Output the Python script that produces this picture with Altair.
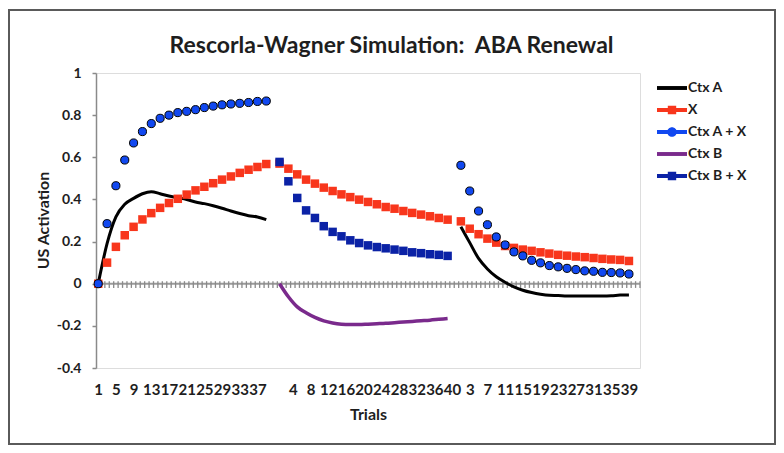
import altair as alt
import pandas as pd

# ---------------- data ----------------
chart_title = "Rescorla-Wagner Simulation: \u00a0ABA Renewal"
series_names = ["Ctx A", "X", "Ctx A + X", "Ctx B", "Ctx B + X"]
series_colors = ["#000000", "#f8361c", "#1148f0", "#7a2a8c", "#0b22a6"]

trials_per_phase = 41          # 40 trials + one blank separator category
plotted_trials = list(range(1, 40, 2))  # odd trials 1..39

# Phase 1: acquisition (context A)
ctx_a_acq = [0.0, 0.19, 0.317, 0.377, 0.405, 0.427, 0.437, 0.427, 0.416, 0.408,
             0.40, 0.388, 0.38, 0.37, 0.358, 0.345, 0.333, 0.323, 0.317, 0.304]
x_acq = [0.0, 0.10, 0.175, 0.23, 0.27, 0.305, 0.335, 0.36, 0.383, 0.403,
         0.423, 0.443, 0.46, 0.477, 0.494, 0.509, 0.526, 0.541, 0.554, 0.568]
ctx_ax_acq = [0.0, 0.285, 0.465, 0.587, 0.668, 0.722, 0.76, 0.785, 0.80, 0.812,
              0.818, 0.826, 0.836, 0.843, 0.849, 0.853, 0.856, 0.86, 0.865, 0.867]

# Phase 2: extinction (context B)
x_ext = [0.57, 0.546, 0.519, 0.494, 0.475, 0.456, 0.44, 0.424, 0.411, 0.399,
         0.388, 0.377, 0.364, 0.356, 0.345, 0.336, 0.328, 0.32, 0.312, 0.304]
ctx_b_ext = [0.0, -0.062, -0.11, -0.138, -0.16, -0.176, -0.186, -0.192, -0.194, -0.194,
             -0.192, -0.19, -0.188, -0.185, -0.182, -0.179, -0.176, -0.173, -0.169, -0.165]
ctx_bx_ext = [0.578, 0.486, 0.407, 0.348, 0.312, 0.273, 0.246, 0.225, 0.206, 0.193,
              0.182, 0.174, 0.168, 0.162, 0.156, 0.149, 0.145, 0.14, 0.137, 0.132]

# Phase 3: renewal test (context A)
ctx_a_ren = [0.27, 0.195, 0.12, 0.07, 0.033, 0.007, -0.015, -0.031, -0.042, -0.05,
             -0.055, -0.056, -0.058, -0.058, -0.058, -0.058, -0.058, -0.057, -0.054, -0.053]
x_ren = [0.296, 0.261, 0.235, 0.214, 0.195, 0.179, 0.17, 0.162, 0.156, 0.149,
         0.143, 0.137, 0.133, 0.129, 0.126, 0.122, 0.118, 0.115, 0.113, 0.108]
ctx_ax_ren = [0.562, 0.44, 0.345, 0.28, 0.222, 0.184, 0.151, 0.132, 0.111, 0.099,
              0.086, 0.08, 0.073, 0.067, 0.061, 0.059, 0.054, 0.053, 0.051, 0.046]

y_ticks = [-0.4, -0.2, 0, 0.2, 0.4, 0.6, 0.8, 1]

# ---------------- build table ----------------
rows = []
def add(series, phase, values):
    for t, v in zip(plotted_trials, values):
        rows.append({"series": series, "phase": phase,
                     "pos": phase * trials_per_phase + t, "value": v})

add("Ctx A", 0, ctx_a_acq)
add("X", 0, x_acq)
add("Ctx A + X", 0, ctx_ax_acq)
add("X", 1, x_ext)
add("Ctx B", 1, ctx_b_ext)
add("Ctx B + X", 1, ctx_bx_ext)
add("Ctx A", 2, ctx_a_ren)
add("X", 2, x_ren)
add("Ctx A + X", 2, ctx_ax_ren)
df = pd.DataFrame(rows)

n_cat = 3 * trials_per_phase
label_vals = list(range(1, n_cat, 4))
boundaries = pd.DataFrame({"pos": [i + 0.5 for i in range(0, n_cat + 1)]})
zero_df = pd.DataFrame({"value": [0.0]})

FONT = "Lato"
TXT = "#1e1e1e"
AX = "#8a8a8a"

x_scale = alt.Scale(domain=[0.5, n_cat + 0.5], nice=False, zero=False)
y_scale = alt.Scale(domain=[-0.4, 1.0], nice=False)

x_axis = alt.Axis(values=label_vals,
                  labelExpr="((datum.value - 1) % 41) + 1 == 41 ? '' : ((datum.value - 1) % 41) + 1",
                  domain=False, ticks=False, grid=False, labelOverlap=False,
                  labelFont=FONT, labelFontWeight="bold", labelFontSize=15,
                  labelColor=TXT, labelPadding=14, labelFlush=False,
                  title="Trials", titleFont=FONT, titleFontWeight="bold",
                  titleFontSize=16, titleColor=TXT, titlePadding=9)
y_axis = alt.Axis(values=y_ticks, labelExpr="round(datum.value * 10) / 10 + ''",
                  grid=False, domainColor=AX, domainWidth=1.5, tickColor=AX,
                  tickWidth=1.5, tickSize=4, labelFont=FONT, labelFontWeight="bold",
                  labelFontSize=14, labelColor=TXT, labelPadding=11,
                  title="US Activation", titleFont=FONT, titleFontWeight="bold",
                  titleFontSize=16, titleColor=TXT, titleAngle=-90,
                  titleX=-53, titleY=147, titleAlign="center", titleBaseline="middle")

X = alt.X("pos:Q", scale=x_scale, axis=x_axis)
Y = alt.Y("value:Q", scale=y_scale, axis=y_axis)

base = alt.Chart(df)

frame = alt.Chart(alt.Data(values=[{"a": 1}])).mark_rect(
    fill=None, stroke="#5a5a5a", strokeWidth=2
).encode(x=alt.value(-87), x2=alt.value(679), y=alt.value(-63), y2=alt.value(371))

title_text = alt.Chart(alt.Data(values=[{"t": chart_title}])).mark_text(
    font=FONT, fontWeight="bold", fontSize=23, color=TXT, align="center",
    baseline="alphabetic"
).encode(text="t:N", x=alt.value(295.5), y=alt.value(-20))

zero_line = alt.Chart(zero_df).mark_rule(color="#9a9a9a", strokeWidth=2).encode(y=Y)

zero_ticks = alt.Chart(boundaries).mark_rule(color="#8a8a8a", strokeWidth=1.3).encode(
    x=X, y=alt.datum(0.012), y2=alt.datum(-0.02)
)

ctx_a_line = base.transform_filter(alt.datum.series == "Ctx A").mark_line(
    color=series_colors[0], strokeWidth=3, interpolate="monotone"
).encode(x=X, y=Y, detail="phase:N")

x_pts = base.transform_filter(alt.datum.series == "X").mark_square(
    color=series_colors[1], size=72, opacity=1
).encode(x=X, y=Y)

ctx_ax_pts = base.transform_filter(alt.datum.series == "Ctx A + X").mark_circle(
    color=series_colors[2], size=66, opacity=1, stroke="#000000", strokeWidth=1
).encode(x=X, y=Y)

ctx_b_line = base.transform_filter(alt.datum.series == "Ctx B").mark_line(
    color=series_colors[3], strokeWidth=3.5, interpolate="monotone"
).encode(x=X, y=Y, detail="phase:N")

ctx_bx_pts = base.transform_filter(alt.datum.series == "Ctx B + X").mark_square(
    color=series_colors[4], size=72, opacity=1
).encode(x=X, y=Y)

line_path = "M-1,-0.13L1,-0.13L1,0.13L-1,0.13Z"
sq_path = line_path + "M-0.28,-0.28L0.28,-0.28L0.28,0.28L-0.28,0.28Z"
circ_path = line_path + "M0.32,0A0.32,0.32,0,1,1,-0.32,0A0.32,0.32,0,1,1,0.32,0Z"
shape_paths = [line_path, sq_path, circ_path, line_path, sq_path]

legend_kw = dict(orient="none", legendX=561, legendY=0, title=None,
                 symbolSize=900, symbolStrokeWidth=0, symbolOpacity=1,
                 labelFont=FONT, labelFontWeight="bold", labelFontSize=14,
                 labelColor=TXT, labelOffset=1, rowPadding=0, padding=0)

legend_layer = base.transform_filter("false").mark_point(filled=True, opacity=1).encode(
    color=alt.Color("series:N", scale=alt.Scale(domain=series_names, range=series_colors),
                    legend=alt.Legend(**legend_kw)),
    shape=alt.Shape("series:N", scale=alt.Scale(domain=series_names, range=shape_paths),
                    legend=alt.Legend(**legend_kw)),
)

chart = alt.layer(
    frame, title_text, zero_line, zero_ticks, ctx_a_line, x_pts, ctx_ax_pts, ctx_b_line,
    ctx_bx_pts, legend_layer
).properties(
    width=544, height=295,
    autosize=alt.AutoSizeParams(type="none"),
    padding={"left": 88, "top": 65, "right": 136, "bottom": 77},
).configure_view(stroke=None).configure(background="white")

chart.save("out.html", embed_options={"renderer": "svg", "actions": False})
